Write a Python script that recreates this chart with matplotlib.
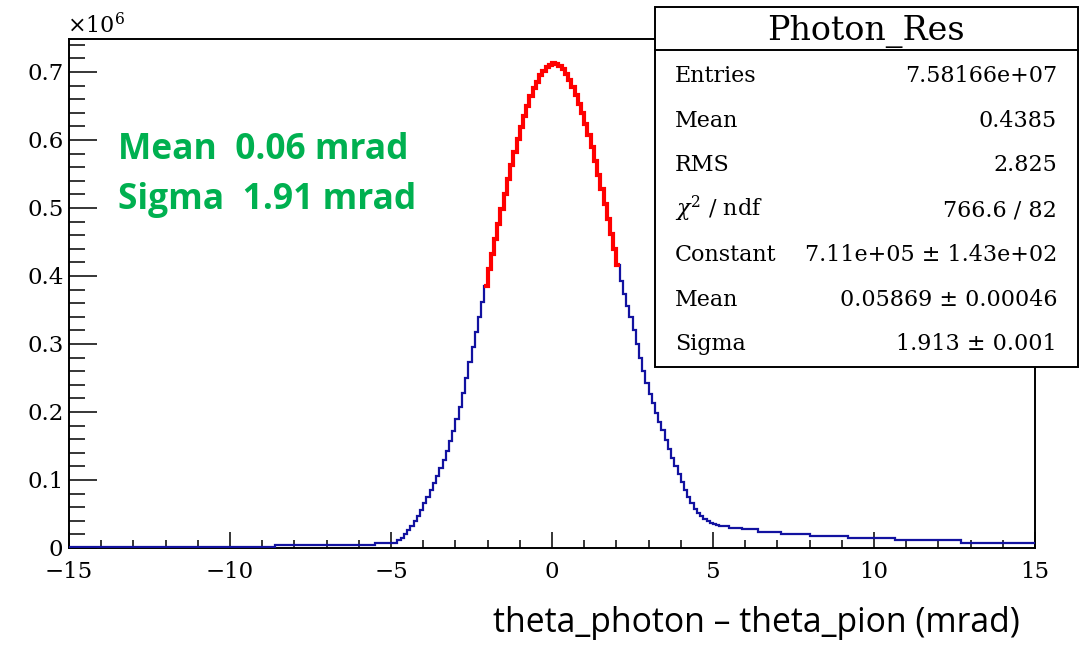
import numpy as np
import matplotlib
matplotlib.use("Agg")
import matplotlib.pyplot as plt
from matplotlib.patches import Rectangle
from matplotlib.lines import Line2D
from matplotlib.ticker import MultipleLocator, FuncFormatter

# ---------------- data (counts in units of 1e6) ----------------
left_tail_edges = [-15.0, -8.6, -5.5, -4.8]
left_tail_counts = [0.001, 0.004, 0.008]

core_lo, core_hi, core_width = -4.8, 5.2, 0.1
core_counts = [
    0.012, 0.015, 0.020, 0.026, 0.032, 0.039, 0.047, 0.056, 0.066, 0.075,
    0.085, 0.095, 0.106, 0.118, 0.130, 0.143, 0.157, 0.172, 0.189, 0.207,
    0.228, 0.250, 0.273, 0.296, 0.318, 0.340, 0.362,
    0.385, 0.410, 0.432, 0.455, 0.477, 0.499, 0.521, 0.542, 0.563, 0.582,
    0.601, 0.619, 0.635, 0.650, 0.664, 0.676, 0.686, 0.695, 0.702, 0.707,
    0.711, 0.713, 0.712, 0.709, 0.704, 0.697, 0.688, 0.678, 0.666, 0.653,
    0.639, 0.624, 0.607, 0.589, 0.569, 0.549, 0.528, 0.506, 0.484, 0.462,
    0.439, 0.416,
    0.393, 0.373, 0.356, 0.339, 0.320, 0.300, 0.280, 0.261, 0.243, 0.227,
    0.213, 0.199, 0.186, 0.173, 0.159, 0.146, 0.133, 0.121, 0.109, 0.097,
    0.086, 0.075, 0.066, 0.058, 0.052, 0.047, 0.043, 0.040, 0.037, 0.035,
    0.034,
]

right_tail_edges = [5.2, 5.5, 5.9, 6.4, 7.1, 8.0, 9.2, 10.65, 12.7, 15.0]
right_tail_counts = [0.032, 0.030, 0.0275, 0.024, 0.021, 0.018, 0.015, 0.012, 0.008]

fit_lo, fit_hi = -2.1, 2.1

x_ticks = [-15, -10, -5, 0, 5, 10, 15]
y_ticks = [0, 0.1, 0.2, 0.3, 0.4, 0.5, 0.6, 0.7]

hist_title = "Photon_Res"
stat_labels = ["Entries", "Mean", "RMS", r"$\chi^{2}$ / ndf", "Constant", "Mean", "Sigma"]
stat_values = ["7.58166e+07", "0.4385", "2.825", "766.6 / 82",
               "7.11e+05 \u00b1 1.43e+02", "0.05869 \u00b1 0.00046", "1.913 \u00b1 0.001"]

note_lines = ["Mean  0.06 mrad", "Sigma  1.91 mrad"]
x_title = "theta_photon \u2013 theta_pion (mrad)"

# ---------------- assemble histogram ----------------
core_edges = np.round(np.linspace(core_lo, core_hi, len(core_counts) + 1), 3)
edges = np.concatenate([left_tail_edges[:-1], core_edges, right_tail_edges[1:]])
counts = np.concatenate([left_tail_counts, core_counts, right_tail_counts])

W, H = 1081, 645
plt.rcParams["mathtext.fontset"] = "dejavuserif"
fig = plt.figure(figsize=(W / 100, H / 100), dpi=100)


def fx(px):
    return px / W


def fy(py):
    return 1 - py / H


ax = fig.add_axes([fx(69), fy(548), fx(1035) - fx(69), fy(39) - fy(548)])
blue = "#1212a0"
ax.stairs(counts, edges, baseline=None, color=blue, lw=1.6, zorder=3)

# fitted range drawn in red
lo_i = int(np.searchsorted(edges, fit_lo - 1e-6))
hi_i = int(np.searchsorted(edges, fit_hi + 1e-6)) - 1
ax.stairs(counts[lo_i:hi_i], edges[lo_i:hi_i + 1], baseline=None,
          color="#ff0000", lw=3.0, zorder=4)

ax.set_xlim(-15, 15)
ax.set_ylim(0, 0.7485)

ax.xaxis.set_major_locator(MultipleLocator(5))
ax.xaxis.set_minor_locator(MultipleLocator(1))
ax.yaxis.set_major_locator(MultipleLocator(0.1))
ax.yaxis.set_minor_locator(MultipleLocator(0.02))
ax.set_xticks(x_ticks)
ax.set_yticks(y_ticks)
ax.xaxis.set_major_formatter(FuncFormatter(lambda v, p: f"{v:.0f}".replace("-", "\u2212")))
ax.yaxis.set_major_formatter(FuncFormatter(lambda v, p: "0" if abs(v) < 1e-9 else f"{v:.1f}"))

ax.tick_params(axis="x", which="major", direction="in", length=11.5, width=1.1, pad=9.5,
               labelsize=16.5, top=False)
ax.tick_params(axis="x", which="minor", direction="in", length=5.8, width=1.1, top=False)
ax.tick_params(axis="y", which="major", direction="in", length=20, width=1.1, pad=4,
               labelsize=16.5, right=False)
ax.tick_params(axis="y", which="minor", direction="in", length=11.5, width=1.1, right=False)
for lab in ax.get_xticklabels() + ax.get_yticklabels():
    lab.set_fontfamily("DejaVu Serif")
for sp in ax.spines.values():
    sp.set_linewidth(1.4)

fig.text(fx(67), fy(33), r"$\times10^{6}$", fontsize=16, family="DejaVu Serif",
         ha="left", va="baseline")

# green annotation
for i, line in enumerate(note_lines):
    fig.text(fx(118), fy(159 + 50 * i), line, color="#00b050", fontsize=25.5,
             fontweight="bold", family="Open Sans", ha="left", va="baseline")

# x axis title
fig.text(fx(1020), fy(632), x_title, fontsize=24.3, family="Open Sans",
         ha="right", va="baseline", color="black")

# stats box
fig.add_artist(Rectangle((fx(655), fy(367)), fx(1078) - fx(655), fy(7) - fy(367),
                         transform=fig.transFigure, facecolor="white",
                         edgecolor="black", lw=1.4, zorder=10))
fig.add_artist(Line2D([fx(655), fx(1078)], [fy(50), fy(50)], transform=fig.transFigure,
                      color="black", lw=1.4, zorder=11))
fig.text(fx(866), fy(40), hist_title, fontsize=24, family="DejaVu Serif",
         ha="center", va="baseline", zorder=12)
for i, (lab, val) in enumerate(zip(stat_labels, stat_values)):
    yb = 82 + 44.7 * i
    fig.text(fx(675), fy(yb), lab, fontsize=16, family="DejaVu Serif",
             ha="left", va="baseline", zorder=12)
    fig.text(fx(1057), fy(yb), val, fontsize=16, family="DejaVu Serif",
             ha="right", va="baseline", zorder=12)

fig.savefig("out.png", dpi=100)
